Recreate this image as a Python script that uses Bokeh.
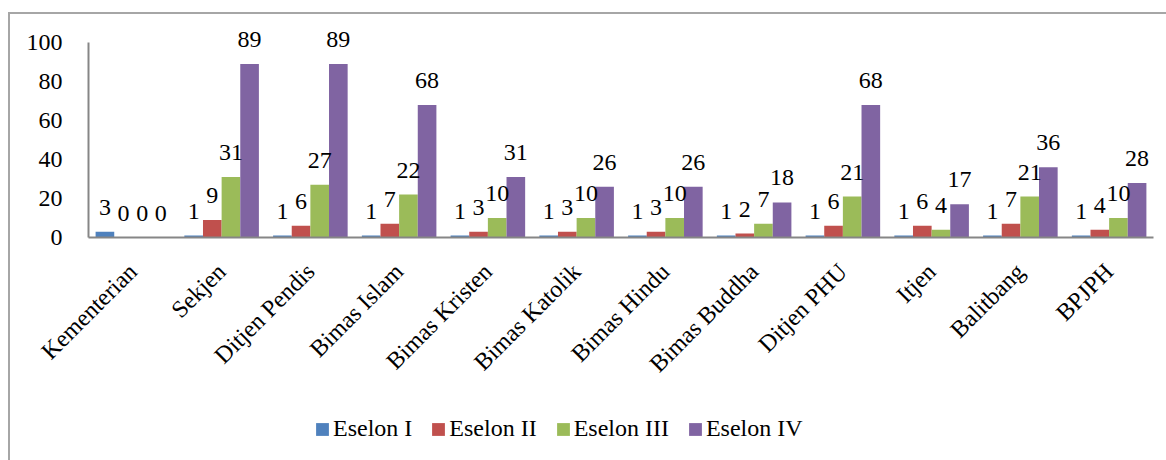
import math
from bokeh.plotting import figure
from bokeh.layouts import column
from bokeh.models import ColumnDataSource, FactorRange, Range1d, LabelSet, Legend, LegendItem, FixedTicker
from bokeh.transform import dodge
from bokeh.core.properties import value
from bokeh.embed import file_html
from bokeh.resources import INLINE

categories = ["Kementerian", "Sekjen", "Ditjen Pendis", "Bimas Islam", "Bimas Kristen",
              "Bimas Katolik", "Bimas Hindu", "Bimas Buddha", "Ditjen PHU", "Itjen",
              "Balitbang", "BPJPH"]
eselon_1 = [3, 1, 1, 1, 1, 1, 1, 1, 1, 1, 1, 1]
eselon_2 = [0, 9, 6, 7, 3, 3, 3, 2, 6, 6, 7, 4]
eselon_3 = [0, 31, 27, 22, 10, 10, 10, 7, 21, 4, 21, 10]
eselon_4 = [0, 89, 89, 68, 31, 26, 26, 18, 68, 17, 36, 28]
series_names = ["Eselon I", "Eselon II", "Eselon III", "Eselon IV"]
y_ticks = [0, 20, 40, 60, 80, 100]

colors = ["#4F81BD", "#C0504D", "#9BBB59", "#8064A2"]
FONT = "Liberation Serif"
FS = "24px"

data = dict(cat=categories, e1=eselon_1, e2=eselon_2, e3=eselon_3, e4=eselon_4)
for k in ["e1", "e2", "e3", "e4"]:
    data[k + "_t"] = [str(v) for v in data[k]]
source = ColumnDataSource(data)

W = 1156
H_MAIN = 386
H_LEG = 60

# frame: 223 px tall, axis value 100 sits 195 px above the baseline
y_top = y_ticks[-1] * 223 / 195

p = figure(x_range=FactorRange(*categories), y_range=Range1d(0, y_top),
           width=W, height=H_MAIN, output_backend="svg", toolbar_location=None,
           min_border_left=78, min_border_right=13, min_border_top=0,
           min_border_bottom=H_MAIN - 223)
p.outline_line_color = None
p.border_fill_alpha = 0
p.background_fill_alpha = 0
p.xgrid.grid_line_color = None
p.ygrid.grid_line_color = None

offsets = [-0.315, -0.105, 0.105, 0.315]
keys = ["e1", "e2", "e3", "e4"]
for key, off, col in zip(keys, offsets, colors):
    p.vbar(x=dodge("cat", off, range=p.x_range), top=key, width=0.21, source=source,
           fill_color=col, line_color=None)
    lbl = LabelSet(x=dodge("cat", off, range=p.x_range), y=key, text=key + "_t", source=source,
                   text_align="center", text_baseline="alphabetic", y_offset=17,
                   text_font=value(FONT), text_font_size=FS, text_color="black")
    p.add_layout(lbl)

for ax in [p.xaxis, p.yaxis]:
    ax.axis_line_color = "#868686"
    ax.axis_line_width = 2
    ax.major_tick_line_color = None
    ax.minor_tick_line_color = None
    ax.major_label_text_font = FONT
    ax.major_label_text_font_size = FS
    ax.major_label_text_color = "black"

p.yaxis.ticker = FixedTicker(ticks=y_ticks)
p.yaxis.bounds = (y_ticks[0], y_ticks[-1])
p.yaxis.major_label_standoff = 20
p.xaxis.major_label_orientation = math.pi / 4
p.xaxis.major_label_standoff = 24

# legend strip below the chart (its bars lie far outside the visible y range)
pl = figure(x_range=FactorRange(*categories), y_range=Range1d(1000, 1001), width=W, height=H_LEG,
            output_backend="svg", toolbar_location=None,
            x_axis_location=None, y_axis_location=None,
            min_border_left=0, min_border_right=0, min_border_top=0, min_border_bottom=0)
pl.outline_line_color = None
pl.border_fill_alpha = 0
pl.background_fill_alpha = 0
pl.xgrid.grid_line_color = None
pl.ygrid.grid_line_color = None
items = []
for key, col, name in zip(keys, colors, series_names):
    r = pl.vbar(x="cat", top=key, width=0.21, source=source, fill_color=col, line_color=None)
    items.append(LegendItem(label=name, renderers=[r]))
legend = Legend(items=items, orientation="horizontal", location=(226, 18),
                glyph_width=16, glyph_height=16, label_standoff=3, spacing=18,
                padding=0, margin=0, border_line_color=None, background_fill_alpha=0,
                label_text_font=FONT, label_text_font_size=FS, label_text_color="black")
pl.add_layout(legend)

layout = column(p, pl, spacing=0, margin=(12, 0, 0, 8),
                styles={"border-top": "2px solid #a6a6a6", "border-left": "2px solid #a6a6a6"})

open("out.html", "w").write(file_html(layout, INLINE))
